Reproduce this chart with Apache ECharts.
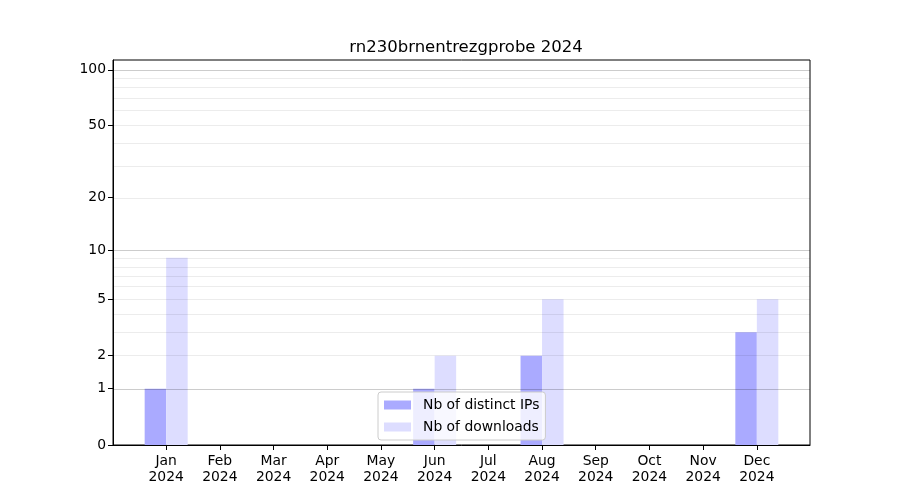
<!DOCTYPE html>
<html>
<head>
<meta charset="utf-8">
<script src="https://cdn.jsdelivr.net/npm/echarts@6/dist/echarts.min.js"></script>
<style>html,body{margin:0;padding:0;background:#fff}#c{width:900px;height:500px}</style>
</head>
<body>
<div id="c"></div>
<script>
const months = ['Jan','Feb','Mar','Apr','May','Jun','Jul','Aug','Sep','Oct','Nov','Dec'];
const year = '2024';
const distinctIPs = [1,0,0,0,0,1,0,2,0,0,0,3];
const downloads = [9,0,0,0,0,2,0,5,0,0,0,5];
const yTickValues = [0,1,2,5,10,20,50,100];
const majorGrid = [1,10,100];
const minorGrid = [2,3,4,5,6,7,8,9,20,30,40,50,60,70,80,90];
const yTop = 113;

const t = v => Math.log10(1 + v);
const font = 'DejaVu Sans';

const chart = echarts.init(document.getElementById('c'));
const gridLines = [];
minorGrid.forEach(v => gridLines.push({yAxis: t(v), lineStyle: {color: 'rgba(0,0,0,0.075)', width: 1, type: 'solid'}}));
majorGrid.forEach(v => gridLines.push({yAxis: t(v), lineStyle: {color: 'rgba(0,0,0,0.2)', width: 1, type: 'solid'}}));

chart.setOption({
  animation: false,
  backgroundColor: '#fff',
  textStyle: {fontFamily: font},
  title: {
    text: 'rn230brnentrezgprobe 2024',
    left: 461, top: 34, textAlign: 'center',
    textStyle: {fontFamily: font, fontSize: 16.5, fontWeight: 'normal', color: '#000'}
  },
  grid: {left: 113, right: 90, top: 60, bottom: 55, show: true, borderColor: '#000', borderWidth: 1, backgroundColor: 'transparent'},
  legend: {
    data: ['Nb of distinct IPs', 'Nb of downloads'],
    orient: 'vertical', left: 378, top: 392,
    itemWidth: 27, itemHeight: 9, itemGap: 8,
    padding: [6, 6, 6, 6],
    backgroundColor: 'rgba(255,255,255,0.8)', borderColor: '#cccccc', borderWidth: 1, borderRadius: 3,
    icon: 'rect',
    textStyle: {fontFamily: font, fontSize: 13.9, color: '#000', padding: [0,0,0,7]}
  },
  xAxis: {
    type: 'value', min: -0.99, max: 11.99,
    axisLine: {show: true, onZero: false, lineStyle: {color: '#000'}},
    splitLine: {show: false},
    axisTick: {show: true, customValues: months.map((m, i) => i), length: 5, lineStyle: {color: '#000'}},
    axisLabel: {
      customValues: months.map((m, i) => i),
      formatter: v => months[Math.round(v)] + '\n' + year,
      fontFamily: font, fontSize: 13.9, color: '#000', lineHeight: 16, margin: 8
    }
  },
  yAxis: {
    type: 'value', min: 0, max: t(yTop),
    axisLine: {show: true, onZero: false, lineStyle: {color: '#000'}},
    splitLine: {show: false},
    axisTick: {show: true, customValues: yTickValues.map(t), length: 5, lineStyle: {color: '#000'}},
    axisLabel: {
      customValues: yTickValues.map(t),
      formatter: v => String(Math.round(Math.pow(10, v) - 1)),
      fontFamily: font, fontSize: 13.9, color: '#000', margin: 7, padding: [3, 0, 0, 0]
    }
  },
  series: [
    {
      name: 'Nb of distinct IPs', type: 'bar', barWidth: 21.5, barGap: '0%',
      itemStyle: {color: '#aaaaff'},
      data: distinctIPs.map((v, i) => [i, t(v)]),
      z: 2
    },
    {
      name: 'Nb of downloads', type: 'bar', barWidth: 21.5, barGap: '0%',
      itemStyle: {color: '#ddddff'},
      data: downloads.map((v, i) => [i, t(v)]),
      z: 2
    },
    {
      name: 'grid', type: 'line', data: [], z: 3, silent: true,
      markLine: {silent: true, symbol: ['none','none'], label: {show: false}, data: gridLines, animation: false}
    }
  ]
});
</script>
</body>
</html>
